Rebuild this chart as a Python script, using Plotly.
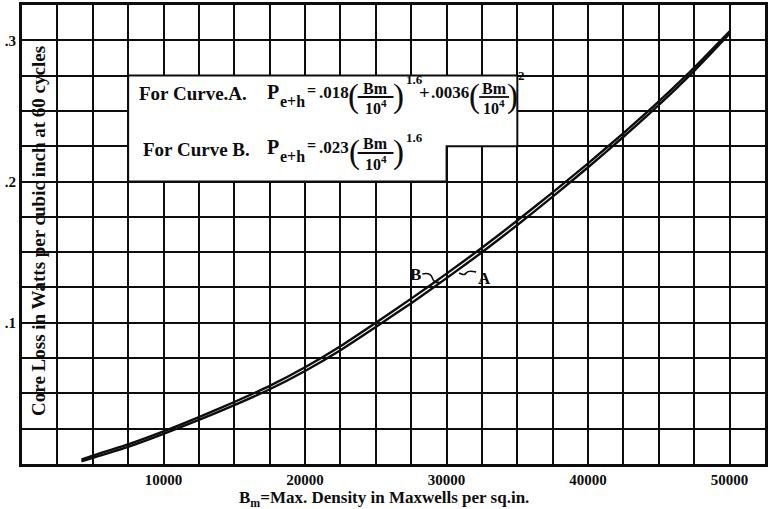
import plotly.graph_objects as go

# Maximum flux density, lines per square inch
b_max = [4200, 5000, 7500, 10000, 12500, 15000, 17500, 20000, 22500, 25000,
         27500, 30000, 32500, 35000, 37500, 40000, 42500, 45000, 47500, 50000]

# Core loss, watts per cubic inch at 60 cycles
loss_a = [0.0019, 0.0044, 0.0121, 0.0213, 0.0312, 0.0417, 0.0529, 0.0659, 0.0806, 0.0970,
          0.1139, 0.1316, 0.1499, 0.1692, 0.1893, 0.2101, 0.2317, 0.2543, 0.2784, 0.3047]
loss_b = [0.0031, 0.0060, 0.0139, 0.0231, 0.0332, 0.0439, 0.0553, 0.0685, 0.0834, 0.1000,
          0.1171, 0.1348, 0.1531, 0.1724, 0.1923, 0.2129, 0.2343, 0.2567, 0.2806, 0.3063]

x_ticks = [10000, 20000, 30000, 40000, 50000]
x_tick_text = ["10000", "20000", "30000", "40000", "50000"]
y_ticks = [0.1, 0.2, 0.3]
y_tick_text = [".1", ".2", ".3"]

W, H = 769, 509
PL, PR, PT, PB = 22, 768, 5, 464
X_MAX, Y_MAX = 52500, 0.325
SERIF = "Liberation Serif"
INK = "#0d0d0d"


def fx(px):
    return (px - PL) / (PR - PL)


def fy(py):
    return (PB - py) / (PB - PT)


def dx(px):
    return (px - PL) / (PR - PL) * X_MAX


def dy(py):
    return (PB - py) / (PB - PT) * Y_MAX


fig = go.Figure()
for name, vals in (("A", loss_a), ("B", loss_b)):
    fig.add_trace(go.Scatter(
        x=b_max, y=vals, mode="lines", name=name,
        line=dict(color=INK, width=2.4, shape="spline", smoothing=0.5),
        showlegend=False, hoverinfo="x+y",
    ))

annotations = []


def txt(text, px, py, size=15, anchor="left", angle=0, weight="bold"):
    annotations.append(dict(
        text=text, x=fx(px), y=fy(py), xref="paper", yref="paper",
        xanchor=anchor, yanchor="middle", showarrow=False, textangle=angle,
        font=dict(family=SERIF, size=size, color=INK, weight=weight),
    ))


shapes = []

# formula box (white panel over the grid)
shapes.append(dict(
    type="path", xref="x", yref="y", layer="above",
    path=(f"M {7500},{0.275} L {35000},{0.275} L {35000},{0.225} "
          f"L {30000},{0.225} L {30000},{0.2} L {7500},{0.2} Z"),
    fillcolor="white", line=dict(color=INK, width=2),
))


def fraction(cx, py_num, py_bar, py_den, half):
    txt("Bm", cx, py_num, 16, "center")
    txt("10<sup>4</sup>", cx, py_den, 16, "center")
    shapes.append(dict(type="line", xref="paper", yref="paper",
                       x0=fx(cx - half), x1=fx(cx + half), y0=fy(py_bar), y1=fy(py_bar),
                       line=dict(color=INK, width=1.8)))


def paren(ch, cx, py):
    txt(ch, cx, py, 33, "center", weight="normal")


# Curve A formula
txt("For Curve.A.", 137, 93, 19)
txt("P", 266, 92, 20)
txt("e+h", 279, 101, 16)
txt("=", 306, 90, 16)
txt(".018", 318, 92, 17)
paren("(", 355, 96)
fraction(377, 88, 97, 107, 18)
paren(")", 400, 96)
txt("1.6", 406, 80, 13)
txt("+", 419, 92, 19)
txt(".0036", 431, 92, 17)
paren("(", 476, 96)
fraction(496, 88, 97, 107, 15)
paren(")", 514, 96)
txt("2", 518, 76, 13)

# Curve B formula
txt("For Curve B.", 141, 149, 19)
txt("P", 266, 147, 20)
txt("e+h", 279, 156, 16)
txt("=", 306, 145, 16)
txt(".023", 318, 147, 17)
paren("(", 356, 152)
fraction(377, 144, 153, 163, 18)
paren(")", 400, 152)
txt("1.6", 406, 137, 13)

# curve labels with leaders
txt("B", 417, 274, 17, "center")
txt("A", 486, 278, 17, "center")
shapes.append(dict(type="path", xref="x", yref="y", layer="above",
                   path=(f"M {dx(424)},{dy(274)} Q {dx(432)},{dy(272)} {dx(434)},{dy(278)} "
                         f"T {dx(441)},{dy(282)}"),
                   line=dict(color=INK, width=1.5)))
shapes.append(dict(type="path", xref="x", yref="y", layer="above",
                   path=(f"M {dx(478)},{dy(272)} Q {dx(470)},{dy(270)} {dx(468)},{dy(273)} "
                         f"T {dx(461)},{dy(273)}"),
                   line=dict(color=INK, width=1.5)))

# axis titles
txt("Core Loss in Watts per cubic inch at 60 cycles", 39, 231, 19, "center", -90)
txt("B<sub>m</sub>=Max. Density in Maxwells per sq.in.", 385, 499, 17, "center")

axis_common = dict(
    showgrid=True, gridcolor=INK, gridwidth=1.8,
    showline=True, linecolor=INK, linewidth=3, mirror=True,
    zeroline=False, ticks="", fixedrange=True,
    tickfont=dict(family=SERIF, size=15, color=INK, weight="bold"),
)

fig.update_layout(
    width=W, height=H,
    margin=dict(l=PL, r=W - PR, t=PT, b=H - PB),
    paper_bgcolor="white", plot_bgcolor="white",
    xaxis=dict(range=[0, X_MAX], tickmode="array", tickvals=x_ticks, ticktext=x_tick_text,
               minor=dict(tick0=0, dtick=2500, showgrid=True, gridcolor=INK, gridwidth=1.8),
               **axis_common),
    yaxis=dict(range=[0, Y_MAX], tickmode="array", tickvals=y_ticks, ticktext=y_tick_text,
               minor=dict(tick0=0, dtick=0.025, showgrid=True, gridcolor=INK, gridwidth=1.8),
               **axis_common),
    annotations=annotations, shapes=shapes,
)

fig.write_html("out.html", config={"displayModeBar": False})
